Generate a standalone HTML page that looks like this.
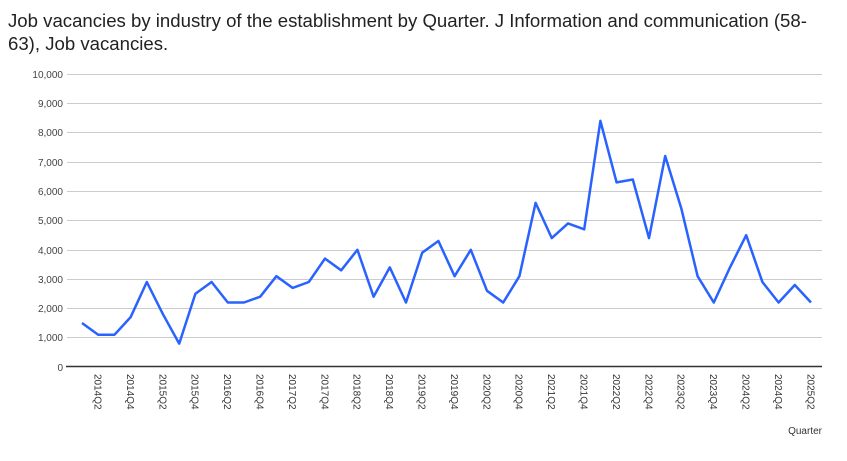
<!DOCTYPE html>
<html><head><meta charset="utf-8"><style>
html,body{margin:0;padding:0;background:#fff;}
body{width:847px;height:456px;overflow:hidden;font-family:"Liberation Sans",Arial,sans-serif;}
</style></head><body>
<svg width="847" height="456" xmlns="http://www.w3.org/2000/svg" font-family="Liberation Sans, Arial, sans-serif">
<text x="8" y="27" font-size="18.6" fill="#222">Job vacancies by industry of the establishment by Quarter. J Information and communication (58-</text>
<text x="8" y="50" font-size="18.6" fill="#222">63), Job vacancies.</text>
<g stroke="#cccccc" stroke-width="1">
<line x1="67" x2="822" y1="74.5" y2="74.5"/><line x1="67" x2="822" y1="103.5" y2="103.5"/>
<line x1="67" x2="822" y1="132.5" y2="132.5"/><line x1="67" x2="822" y1="162.5" y2="162.5"/>
<line x1="67" x2="822" y1="191.5" y2="191.5"/><line x1="67" x2="822" y1="220.5" y2="220.5"/>
<line x1="67" x2="822" y1="250.5" y2="250.5"/><line x1="67" x2="822" y1="279.5" y2="279.5"/>
<line x1="67" x2="822" y1="308.5" y2="308.5"/><line x1="67" x2="822" y1="337.5" y2="337.5"/>
</g>
<line x1="66" x2="822" y1="366.5" y2="366.5" stroke="#333" stroke-width="1.5"/>
<g font-size="10" fill="#444" text-anchor="end">
<text x="63" y="78">10,000</text><text x="63" y="107">9,000</text><text x="63" y="136">8,000</text>
<text x="63" y="166">7,000</text><text x="63" y="195">6,000</text><text x="63" y="224">5,000</text>
<text x="63" y="254">4,000</text><text x="63" y="283">3,000</text><text x="63" y="312">2,000</text>
<text x="63" y="341">1,000</text><text x="63" y="371">0</text>
</g>
<polyline fill="none" stroke="#2962ff" stroke-width="2.5" stroke-linejoin="round" points="82,323 98.2,334.8 114.4,334.8 130.6,317.2 146.8,282 163,314.3 179.2,343.6 195.4,293.8 211.6,282 227.8,302.5 244,302.5 260.2,296.7 276.4,276.2 292.6,287.9 308.8,282 325,258.6 341.2,270.3 357.4,249.8 373.6,296.7 389.8,267.4 406,302.5 422.2,252.7 438.4,241 454.6,276.2 470.8,249.8 487,290.8 503.2,302.5 519.4,276.2 535.6,202.9 551.8,238.1 568,223.4 584.2,229.3 600.4,120.9 616.6,182.4 632.8,179.5 649,238.1 665.2,156 681.4,208.8 697.6,276.2 713.8,302.5 730,267.4 746.2,235.2 762.4,282 778.6,302.5 794.8,285 811,302.5"/>
<g font-size="10" fill="#333">
<text transform="translate(94.5,374) rotate(90)">2014Q2</text>
<text transform="translate(126.9,374) rotate(90)">2014Q4</text>
<text transform="translate(159.3,374) rotate(90)">2015Q2</text>
<text transform="translate(191.7,374) rotate(90)">2015Q4</text>
<text transform="translate(224.1,374) rotate(90)">2016Q2</text>
<text transform="translate(256.5,374) rotate(90)">2016Q4</text>
<text transform="translate(288.9,374) rotate(90)">2017Q2</text>
<text transform="translate(321.3,374) rotate(90)">2017Q4</text>
<text transform="translate(353.7,374) rotate(90)">2018Q2</text>
<text transform="translate(386.1,374) rotate(90)">2018Q4</text>
<text transform="translate(418.5,374) rotate(90)">2019Q2</text>
<text transform="translate(450.9,374) rotate(90)">2019Q4</text>
<text transform="translate(483.3,374) rotate(90)">2020Q2</text>
<text transform="translate(515.7,374) rotate(90)">2020Q4</text>
<text transform="translate(548.1,374) rotate(90)">2021Q2</text>
<text transform="translate(580.5,374) rotate(90)">2021Q4</text>
<text transform="translate(612.9,374) rotate(90)">2022Q2</text>
<text transform="translate(645.3,374) rotate(90)">2022Q4</text>
<text transform="translate(677.7,374) rotate(90)">2023Q2</text>
<text transform="translate(710.1,374) rotate(90)">2023Q4</text>
<text transform="translate(742.5,374) rotate(90)">2024Q2</text>
<text transform="translate(774.9,374) rotate(90)">2024Q4</text>
<text transform="translate(807.3,374) rotate(90)">2025Q2</text>
</g>
<text x="822" y="434" font-size="10" fill="#333" text-anchor="end">Quarter</text>
</svg>
</body></html>
